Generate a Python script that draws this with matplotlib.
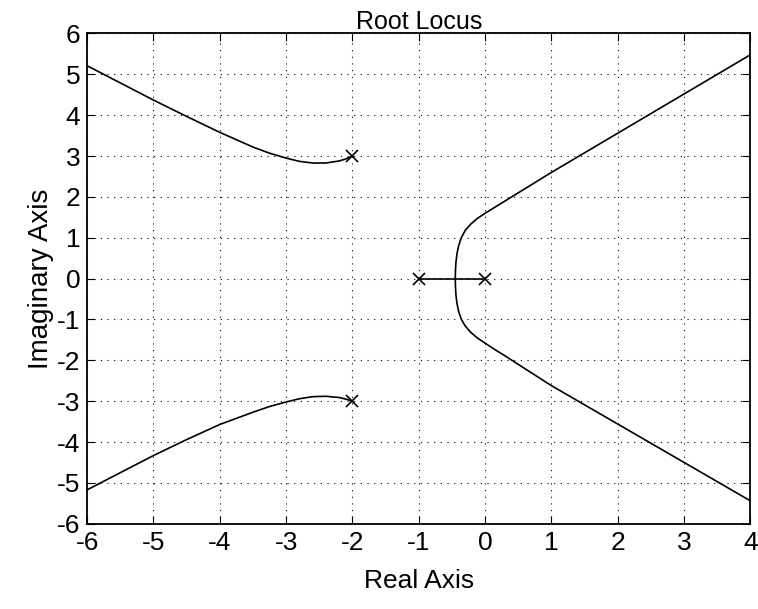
import numpy as np
import matplotlib
matplotlib.use('Agg')
import matplotlib.pyplot as plt

plt.rcParams['font.family'] = ['Liberation Sans', 'DejaVu Sans']
plt.rcParams['axes.unicode_minus'] = False

# open-loop poles
pole_re = [0.0, -1.0, -2.0, -2.0]
pole_im = [0.0, 0.0, 3.0, -3.0]

# branch leaving -2+3j towards upper left
ul_re = [-2.0, -2.1, -2.2, -2.4, -2.6, -2.8, -3.0, -3.25, -3.5, -4.0, -4.5, -5.0, -5.5, -6.0]
ul_im = [3.0, 2.93, 2.88, 2.83, 2.83, 2.87, 2.95, 3.07, 3.22, 3.58, 3.97, 4.37, 4.79, 5.21]

# branch leaving -2-3j towards lower left
ll_re = [-2.0, -2.1, -2.2, -2.4, -2.6, -2.8, -3.0, -3.25, -3.5, -4.0, -4.5, -5.0, -5.5, -6.0]
ll_im = [-3.0, -2.95, -2.91, -2.88, -2.89, -2.94, -3.02, -3.13, -3.27, -3.57, -3.94, -4.33, -4.75, -5.17]

# real axis segment between 0 and -1
ax_re = [-1.0, 0.0]
ax_im = [0.0, 0.0]

# branch through breakaway point, upper half
ur_re = [-0.45, -0.447, -0.44, -0.425, -0.4, -0.36, -0.3, -0.22, -0.12, 0.0, 0.15, 0.3,
         0.5, 0.75, 1.0, 1.5, 2.0, 2.5, 3.0, 3.5, 4.0]
ur_im = [0.0, 0.2, 0.4, 0.6, 0.8, 1.0, 1.18, 1.33, 1.47, 1.6, 1.75, 1.9,
         2.1, 2.35, 2.6, 3.08, 3.56, 4.04, 4.52, 5.0, 5.48]

# branch through breakaway point, lower half
lr_re = [-0.45, -0.447, -0.44, -0.425, -0.4, -0.36, -0.3, -0.22, -0.12, 0.0, 0.15, 0.3,
         0.5, 0.75, 1.0, 1.5, 2.0, 2.5, 3.0, 3.5, 4.0]
lr_im = [0.0, -0.2, -0.4, -0.6, -0.8, -0.99, -1.16, -1.31, -1.45, -1.58, -1.74, -1.89,
         -2.1, -2.36, -2.62, -3.09, -3.56, -4.03, -4.5, -4.97, -5.44]

xticks = [-6, -5, -4, -3, -2, -1, 0, 1, 2, 3, 4]
yticks = [-6, -5, -4, -3, -2, -1, 0, 1, 2, 3, 4, 5, 6]

fig = plt.figure(figsize=(7.58, 6.09), dpi=100)
ax = fig.add_axes([0.115, 0.14, 0.875, 0.805])

for xs, ys in [(ul_re, ul_im), (ll_re, ll_im), (ax_re, ax_im), (ur_re, ur_im), (lr_re, lr_im)]:
    ax.plot(xs, ys, color='black', lw=1.2)
ax.plot(pole_re, pole_im, 'x', color='black', ms=9, mew=1.2)

ax.set_xlim(-6, 4)
ax.set_ylim(-6, 6)
ax.set_xticks(xticks)
ax.set_yticks(yticks)
ax.grid(True, linestyle=(0, (1, 5)), color='black', lw=0.8)
ax.tick_params(direction='in', top=True, right=True, length=6, labelsize=19, pad=5)
for s in ax.spines.values():
    s.set_linewidth(1.3)

ax.set_title('Root Locus', fontsize=18, pad=3)
ax.set_xlabel('Real Axis', fontsize=19, labelpad=10)
ax.set_ylabel('Imaginary Axis', fontsize=20, labelpad=2)

fig.savefig('out.png', dpi=100)
